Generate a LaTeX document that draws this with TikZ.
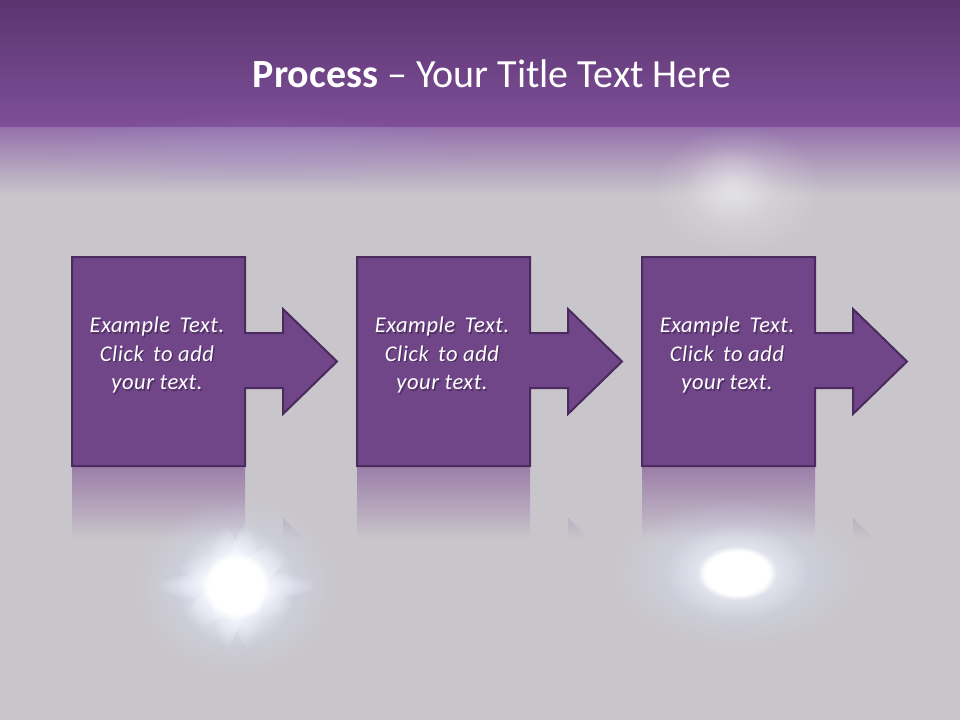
\documentclass[tikz,border=0pt]{standalone}
\usepackage{fontspec}
\setmainfont{Carlito}
\usetikzlibrary{fadings,shapes.geometric}
\definecolor{bggrey}{HTML}{C9C6CB}
\definecolor{headtop}{HTML}{5A3570}
\definecolor{headbot}{HTML}{7F4F98}
\definecolor{fadetop}{HTML}{9571AC}
\definecolor{lavender}{HTML}{A896D0}
\definecolor{boxfill}{HTML}{704689}
\definecolor{boxline}{HTML}{4B2A5E}
\definecolor{refltop}{HTML}{9C7EA9}
\definecolor{glowblue}{HTML}{D6E0F8}
\definecolor{raycol}{HTML}{EEF3FF}
\definecolor{shadowc}{HTML}{2E1A3A}
\tikzfading[name=glowfade, inner color=transparent!0, outer color=transparent!100]
\newcommand{\wsp}{\hspace{0.42em}}
\tikzset{
  boxshape/.style={fill=boxfill, draw=boxline, line width=2pt, line join=miter},
  bodyfont/.style={font=\itshape\fontsize{22.5}{28.5}\selectfont\addfontfeatures{LetterSpace=2.5}},
  bodytext/.style={bodyfont, text=white, align=center, inner sep=0pt},
  bodyshadow/.style={bodyfont, text=shadowc, text opacity=0.5, align=center, inner sep=0pt},
  titletext/.style={text=white, font=\fontsize{40}{48}\selectfont, inner sep=0pt, anchor=base},
}
\begin{document}
\begin{tikzpicture}[x=1pt,y=-1pt]
\useasboundingbox (0,0) rectangle (960,720);
% background
\fill[bggrey] (0,0) rectangle (960,720);
\shade[top color=headtop, bottom color=headbot] (0,0) rectangle (960,128);
\shade[top color=fadetop, bottom color=bggrey] (0,127) rectangle (960,195);
\fill[lavender, opacity=0.3, path fading=glowfade] (260,150) ellipse [x radius=220, y radius=35];
% header glow
\fill[white, opacity=0.35, path fading=glowfade] (738,190) ellipse [x radius=85, y radius=65];
\fill[white, opacity=0.3, path fading=glowfade] (730,185) ellipse [x radius=45, y radius=40];
% title
\node[titletext] (title) at (492,87) {\bfseries Process\mdseries{} – Your Title Text Here};
% three process shapes
\foreach \i/\dx in {1/0,2/285,3/570}{
  \begin{scope}[xshift=\dx]
    % reflection
    \begin{scope}
      \clip (72,466) -- (245,466) -- (245,545) -- (283,545) -- (283,518) -- (337,571) -- (283,623) -- (283,599) -- (245,599) -- (245,675) -- (72,675) -- cycle;
      \shade[top color=refltop, bottom color=bggrey] (60,467) rectangle (350,540);
    \end{scope}
    % shape
    \path[boxshape] (72,257) -- (245,257) -- (245,333) -- (283,333) -- (283,309) -- (337,361.5) -- (283,414) -- (283,388) -- (245,388) -- (245,466) -- (72,466) -- cycle;
  \end{scope}
}
% texts
\foreach \i/\cx in {1/157,2/442,3/727}{
  \node[bodyshadow] (s\i) at (\cx+1.5,356.5) {Example\wsp Text.\\Click\wsp to add\\your text.};
  \node[bodytext] (t\i) at (\cx,355) {Example\wsp Text.\\Click\wsp to add\\your text.};
}
% left star flare
\fill[glowblue, opacity=0.8, path fading=glowfade] (236,586) ellipse [x radius=100, y radius=88];
\foreach \a/\l in {0/80,38/72,72/66,108/74,145/70,182/82,218/68,255/72,295/64,332/76}{
  \fill[raycol, opacity=0.85, path fading=glowfade, rotate around={\a:(236,586)}] (236,586) ellipse [x radius=\l, y radius=16];
}
\fill[white, opacity=1, path fading=glowfade] (236,586) circle [radius=60];
\fill[white, path fading=circle with fuzzy edge 20 percent] (236,586) circle [radius=34];
% right glow
\fill[glowblue, opacity=0.75, path fading=glowfade] (737,572) ellipse [x radius=125, y radius=75];
\fill[white, opacity=0.8, path fading=glowfade] (737,572) ellipse [x radius=72, y radius=48];
\fill[white, path fading=circle with fuzzy edge 20 percent] (737,573) ellipse [x radius=40, y radius=27];
\end{tikzpicture}
\end{document}
